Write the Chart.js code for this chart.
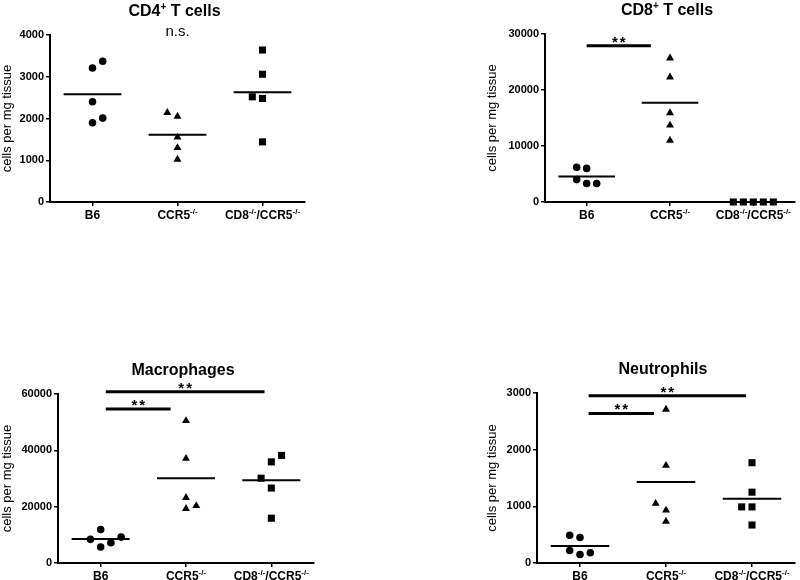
<!DOCTYPE html>
<html>
<head>
<meta charset="utf-8">
<script src="https://cdn.jsdelivr.net/npm/chart.js@4.4.1/dist/chart.umd.min.js"></script>
<style>
body { margin: 0; background: #fff; }
#wrap { position: relative; width: 800px; height: 580px; }
canvas { position: absolute; }
</style>
</head>
<body>
<div id="wrap">
<canvas id="cd4Chart" width="400" height="290" style="left:0;top:0"></canvas>
<canvas id="cd8Chart" width="400" height="290" style="left:400px;top:0"></canvas>
<canvas id="macChart" width="400" height="290" style="left:0;top:290px"></canvas>
<canvas id="neuChart" width="400" height="290" style="left:400px;top:290px"></canvas>
</div>
<script>
// groups on the x axis, {..} = superscript
var groups = ['B6', 'CCR5{-/-}', 'CD8{-/-}/CCR5{-/-}'];

// CD4+ T cells (cells per mg tissue)
var cd4B6 = [3370, 3210, 2400, 2010, 1900];
var cd4Ccr5 = [2140, 2050, 1550, 1300, 1020];
var cd4Dko = [3640, 3060, 2520, 2480, 1440];
var cd4Ticks = [0, 1000, 2000, 3000, 4000];

// CD8+ T cells
var cd8B6 = [6200, 6000, 4000, 3300, 3300];
var cd8Ccr5 = [25700, 22300, 15900, 13700, 11000];
var cd8Dko = [0, 0, 0, 0, 0];
var cd8Ticks = [0, 10000, 20000, 30000];

// Macrophages
var macB6 = [11900, 9200, 8400, 7200, 5700];
var macCcr5 = [50500, 37100, 23200, 20300, 19300];
var macDko = [38200, 35900, 30100, 26600, 15900];
var macTicks = [0, 20000, 40000, 60000];

// Neutrophils
var neuB6 = [490, 450, 220, 180, 150];
var neuCcr5 = [2710, 1720, 1050, 930, 735];
var neuDko = [1770, 1250, 990, 990, 670];
var neuTicks = [0, 1000, 2000, 3000];

// side-by-side column of each point (scatter spread, as in the figure)
var cd4Cols = [[1, 0, 0, 1, 0], [-1, 0, 0, 0, 0], [0, 0, -1, 0, 0]];
var cd8Cols = [[-1, 0, -1, 0, 1], [0, 0, 0, 0, 0], [-2, -1, 0, 1, 2]];
var macCols = [[0, 2, -1, 1, 0], [0, 0, 0, 1, 0], [1, 0, -1, 0, 0]];
var neuCols = [[-1, 0, -1, 1, 0], [0, 0, -1, 0, 0], [0, 0, -1, 0, 0]];

// significance bars: [from, to, height]
var cd8Sig = [[1.0, 1.77, 27900]];
var macSig = [[1.06, 1.82, 54700], [1.06, 2.92, 60800]];
var neuSig = [[1.1, 1.86, 2640], [1.1, 2.93, 2950]];

var FONT = '"Liberation Sans", Arial, sans-serif';
var COL_W = 0.12;
var shapes = ['circle', 'triangle', 'rect'];
var sizes = [3.8, 4.6, 5];

function splitSup(str) {
    var parts = [], re = /\{([^}]*)\}/g, last = 0, m;
    while ((m = re.exec(str))) {
        if (m.index > last) parts.push([str.slice(last, m.index), false]);
        parts.push([m[1], true]);
        last = re.lastIndex;
    }
    if (last < str.length) parts.push([str.slice(last), false]);
    return parts;
}

function drawSup(ctx, str, cx, baseY, size, supSize, rise) {
    var parts = splitSup(str);
    var total = 0;
    parts.forEach(function (p) {
        ctx.font = 'bold ' + (p[1] ? supSize : size) + 'px ' + FONT;
        p.push(ctx.measureText(p[0]).width);
        total += p[2];
    });
    var x = cx - total / 2;
    ctx.textAlign = 'left';
    ctx.textBaseline = 'alphabetic';
    parts.forEach(function (p) {
        ctx.font = 'bold ' + (p[1] ? supSize : size) + 'px ' + FONT;
        ctx.fillText(p[0], x, p[1] ? baseY - rise : baseY);
        x += p[2];
    });
}

var panelText = {
    id: 'panelText',
    afterDraw: function (chart) {
        var o = chart.options.plugins.panelText;
        var ctx = chart.ctx, area = chart.chartArea;
        var xs = chart.scales.x, ys = chart.scales.y;
        ctx.save();
        ctx.fillStyle = '#000';
        drawSup(ctx, o.title, (area.left + area.right) / 2 - 3, area.top - 19, 16, 10, 6);
        groups.forEach(function (g, i) {
            drawSup(ctx, g, xs.getPixelForValue(i + 1), area.bottom + 16.5, 12, 8, 5);
        });
        ctx.textAlign = 'center';
        ctx.textBaseline = 'alphabetic';
        o.sig.forEach(function (s) {
            ctx.font = 'bold 15px ' + FONT;
            ctx.letterSpacing = '2px';
            ctx.fillText('**', xs.getPixelForValue((s[0] + s[1]) / 2) + 1, ys.getPixelForValue(s[2]) + 1);
        });
        ctx.letterSpacing = '0px';
        if (o.ns) {
            ctx.font = '15px ' + FONT;
            ctx.fillText('n.s.', xs.getPixelForValue(2), ys.getPixelForValue(o.ns) + 0.5);
        }
        ctx.restore();
    }
};

function mean(a) {
    return a.reduce(function (s, v) { return s + v; }, 0) / a.length;
}

function makePanel(id, title, series, cols, ticks, sig, box, ns) {
    var datasets = [];
    series.forEach(function (vals, i) {
        datasets.push({
            data: vals.map(function (v, j) { return { x: i + 1 + cols[i][j] * COL_W, y: v }; }),
            pointStyle: shapes[i],
            pointRadius: sizes[i],
            backgroundColor: '#000',
            borderColor: '#000',
            borderWidth: 0,
            clip: false
        });
        var m = mean(vals);
        datasets.push({
            data: [{ x: i + 1 - 0.34, y: m }, { x: i + 1 + 0.34, y: m }],
            showLine: true,
            pointRadius: 0,
            borderColor: '#000',
            borderWidth: 2,
            clip: false
        });
    });
    sig.forEach(function (s) {
        datasets.push({
            data: [{ x: s[0], y: s[2] }, { x: s[1], y: s[2] }],
            showLine: true,
            pointRadius: 0,
            borderColor: '#000',
            borderWidth: 3,
            borderCapStyle: 'butt',
            clip: false
        });
    });

    return new Chart(document.getElementById(id), {
        type: 'scatter',
        data: { datasets: datasets },
        options: {
            responsive: false,
            animation: false,
            events: [],
            layout: { padding: { left: box.padL, right: box.padR, top: box.padT, bottom: 0 } },
            plugins: {
                legend: { display: false },
                tooltip: { enabled: false },
                panelText: { title: title, sig: sig, ns: ns }
            },
            scales: {
                x: {
                    type: 'linear',
                    min: 0.5,
                    max: 3.5,
                    afterBuildTicks: function (s) {
                        s.ticks = [{ value: 1 }, { value: 2 }, { value: 3 }];
                    },
                    afterFit: function (s) { s.height = box.xh; },
                    // labels are drawn by panelText (they need superscripts)
                    ticks: { color: 'rgba(0,0,0,0)', callback: function () { return 'x'; } },
                    grid: { drawOnChartArea: false, color: '#000', lineWidth: 1.5, tickLength: 4 },
                    border: { color: '#000', width: 2 }
                },
                y: {
                    min: ticks[0],
                    max: ticks[ticks.length - 1],
                    afterBuildTicks: function (s) {
                        s.ticks = ticks.map(function (v) { return { value: v }; });
                    },
                    afterFit: function (s) { s.width = box.yw; },
                    ticks: {
                        color: '#000',
                        padding: 2,
                        font: { family: FONT, size: 11, weight: 'bold' },
                        callback: function (v) { return String(v); }
                    },
                    grid: { drawOnChartArea: false, color: '#000', lineWidth: 1.5, tickLength: 4 },
                    border: { color: '#000', width: 2 },
                    title: {
                        display: true,
                        text: 'cells per mg tissue',
                        color: '#000',
                        padding: 0,
                        font: { family: FONT, size: 13 }
                    }
                }
            }
        },
        plugins: [panelText]
    });
}

var cd4Chart = makePanel('cd4Chart', 'CD4{+} T cells', [cd4B6, cd4Ccr5, cd4Dko], cd4Cols, cd4Ticks, [],
    { padL: 0, yw: 50, padR: 95, padT: 35, xh: 88 }, 4000);
var cd8Chart = makePanel('cd8Chart', 'CD8{+} T cells', [cd8B6, cd8Ccr5, cd8Dko], cd8Cols, cd8Ticks, cd8Sig,
    { padL: 85, yw: 60, padR: 2, padT: 34, xh: 88 });
var macChart = makePanel('macChart', 'Macrophages', [macB6, macCcr5, macDko], macCols, macTicks, macSig,
    { padL: 0, yw: 58, padR: 86, padT: 104, xh: 17 });
var neuChart = makePanel('neuChart', 'Neutrophils', [neuB6, neuCcr5, neuDko], neuCols, neuTicks, neuSig,
    { padL: 85, yw: 52, padR: 5, padT: 103, xh: 17 });
</script>
</body>
</html>
